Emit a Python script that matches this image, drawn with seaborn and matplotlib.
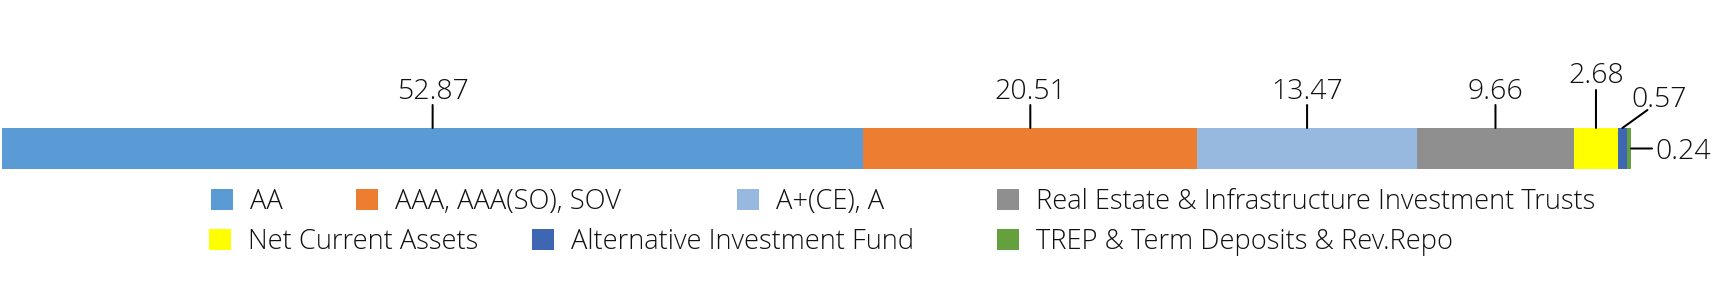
import numpy as np
import pandas as pd
import matplotlib
matplotlib.use("Agg")
import matplotlib.pyplot as plt
from matplotlib.patches import Patch
import seaborn as sns

# ---- data ----
categories = ["AA", "AAA, AAA(SO), SOV", "A+(CE), A",
              "Real Estate & Infrastructure Investment Trusts",
              "Net Current Assets", "Alternative Investment Fund",
              "TREP & Term Deposits & Rev.Repo"]
values = [52.87, 20.51, 13.47, 9.66, 2.68, 0.57, 0.24]
value_labels = ["52.87", "20.51", "13.47", "9.66", "2.68", "0.57", "0.24"]

# ---- style ----
colors = ["#5B9BD5", "#ED7D31", "#97B9E0", "#8F8F8F", "#FFFF00", "#3F66B2", "#64A03E"]

sns.set_theme(style="white")
plt.rcParams["font.family"] = ["Open Sans", "DejaVu Sans"]

W, H = 1724, 287
fig = plt.figure(figsize=(W / 100, H / 100), dpi=100)
bar_left, bar_right, bar_top, bar_bottom = 2, 1631, 128, 169
ax = fig.add_axes([bar_left / W, (H - bar_bottom) / H,
                   (bar_right - bar_left) / W, (bar_bottom - bar_top) / H])

starts = np.concatenate([[0], np.cumsum(values)[:-1]])
ends = np.cumsum(values)
df = pd.DataFrame({"cat": categories, "start": starts, "end": ends, "row": ["r"] * len(values)})

# stacked bar: draw cumulative totals from largest to smallest
for i in reversed(range(len(values))):
    sns.barplot(data=df.iloc[[i]], x="end", y="row", orient="h", color=colors[i],
                saturation=1, width=1.0, errorbar=None, linewidth=0, ax=ax)

ax.set_xlim(0, 100)
ax.set_ylim(0.5, -0.5)
ax.set_axis_off()

# ---- value labels with leader lines (offsets in pixels) ----
# (line_dx, line_dy, text_dx, text_dy, ha, va, anchor)
label_layout = [
    (0, 23, 0, 29, "center", "baseline", "mid"),
    (0, 23, 0, 29, "center", "baseline", "mid"),
    (0, 23, 0, 29, "center", "baseline", "mid"),
    (0, 23, 0, 29, "center", "baseline", "mid"),
    (0, 38, 0, 45, "center", "baseline", "mid"),
    (25, 18, 37, 21, "center", "baseline", "mid"),
    (21, 0, 24, 0, "left", "center_baseline", "end"),
]
fs_val = 20.5
for i, (ldx, ldy, tdx, tdy, ha, va, anc) in enumerate(label_layout):
    if anc == "mid":
        xy = (starts[i] + values[i] / 2, -0.5)
    else:
        xy = (ends[-1], 0.0)
    ax.annotate("", xy=xy, xytext=(ldx, ldy), textcoords="offset pixels",
                xycoords="data", annotation_clip=False,
                arrowprops=dict(arrowstyle="-", lw=1.45, color="black",
                                shrinkA=0, shrinkB=0))
    ax.annotate(value_labels[i], xy=xy, xytext=(tdx, tdy), textcoords="offset pixels",
                xycoords="data", annotation_clip=False, ha=ha, va=va,
                fontsize=fs_val, color="#111111", fontweight="light")

# ---- legend (manual placement of entries) ----
legend_pos = [(211, 202), (356, 202), (737, 202), (997, 202),
              (209, 242), (532, 242), (997, 242)]
fs_leg = 19.6
for i, (lx, ly) in enumerate(legend_pos):
    h = Patch(facecolor=colors[i], edgecolor="none")
    leg = fig.legend(handles=[h], labels=[categories[i]], loc="center left",
                     bbox_to_anchor=(lx / W, (H - ly) / H), frameon=False,
                     fontsize=fs_leg, handlelength=0.82, handleheight=0.82,
                     handletextpad=0.6, borderpad=0, borderaxespad=0)
    for t in leg.get_texts():
        t.set_color("#111111")
        t.set_fontweight("light")

fig.savefig("out.png", dpi=100)
